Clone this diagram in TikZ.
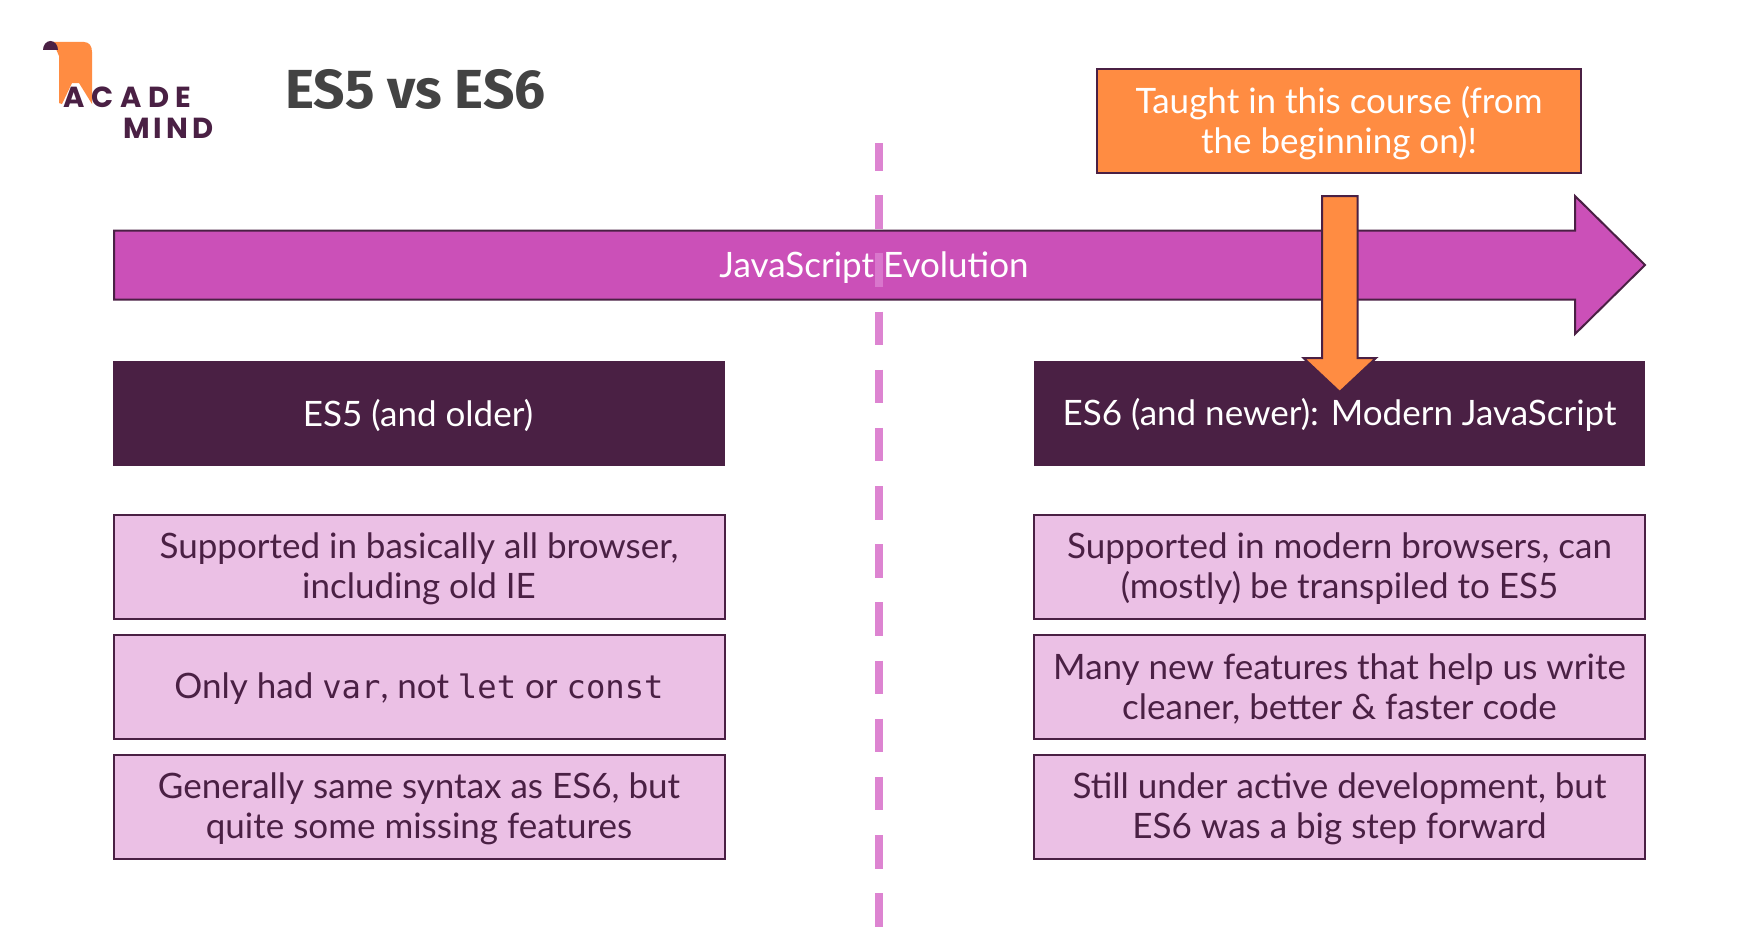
\documentclass[tikz,border=0pt]{standalone}
\usepackage{fontspec}
\setmainfont{Lato}
\newfontfamily\titlefont{Fira Sans}[UprightFont=*-Bold]
\newfontfamily\logofont{Poppins}[UprightFont=*-Bold]
\setmonofont{DejaVu Sans Mono}[Scale=0.92]
\definecolor{plum}{HTML}{4A2044}
\definecolor{violet}{HTML}{CB50B8}
\definecolor{pinkbox}{HTML}{EBC0E5}
\definecolor{dashpink}{HTML}{DB7ACE}
\definecolor{orangeb}{HTML}{FF8C42}
\definecolor{titlegray}{HTML}{434343}
\tikzset{
  x=1pt,y=-1pt,
  txt/.style={font=\fontsize{35}{40}\selectfont,align=center,inner sep=0pt,outer sep=0pt},
  info/.style={draw=plum,line width=2pt,fill=pinkbox,minimum width=611pt,minimum height=104pt,inner sep=0pt,outer sep=0pt},
  label/.style={txt,text=plum},
  head/.style={fill=plum,minimum width=611.5pt,minimum height=104.5pt,inner sep=0pt,outer sep=0pt},
  orangebox/.style={draw=plum,line width=2pt,fill=orangeb,minimum width=484pt,minimum height=104pt,inner sep=0pt,outer sep=0pt},
  outlinearrow/.style={draw=plum,line width=2pt,line join=miter},
  logotext/.style={inner sep=0pt,text=plum,font=\logofont\fontsize{29}{29}\selectfont,anchor=base west},
}
\begin{document}
\begin{tikzpicture}
\useasboundingbox (0,0) rectangle (1756,950);
\fill[white] (0,0) rectangle (1756,950);
% logo
\fill[orangeb] (53,42) -- (84,42) .. controls (89,42) and (92,46) .. (92,52) -- (92,104) -- (79,83) -- (72,83) -- (62,104) -- (59,103) -- (59,56) -- cycle;
\fill[plum] (43,50) arc[start angle=180,end angle=0,x radius=7.5pt,y radius=9pt] -- cycle;
\node[logotext] (logoa) at (63,107) {A\hspace{7pt}C\hspace{7pt}A\hspace{6pt}D\hspace{6pt}E};
\node[logotext] (logom) at (123,138) {M\hspace{4pt}I\hspace{4pt}N\hspace{4pt}D};
% title
\node[inner sep=0pt,text=titlegray,font=\titlefont\fontsize{55}{55}\selectfont,anchor=base west] (title) at (285,108) {ES5 vs ES6};
% big arrow
\draw[outlinearrow,fill=violet] (114,230.5) -- (1575,230.5) -- (1575,196) -- (1645,265) -- (1575,334) -- (1575,299.5) -- (114,299.5) -- cycle;
\node[txt,text=white] (evo) at (874,267.5) {JavaScript Evolution};
% headers
\node[head] (es5) at (419,413.7) {};
\node[txt,text=white] (es5t) at (418,415) {ES5 (and older)};
\node[head] (es6) at (1339.5,413.7) {};
\node[txt,text=white] (es6t) at (1339.5,415) {ES6 (and newer): Modern JavaScript};
% divider
\coordinate (dtop) at (879,143);
\coordinate (dbot) at (879,927);
\draw[dashpink,opacity=.92,line width=8.7pt,dash pattern=on 33.5pt off 24.67pt,dash phase=6pt] (dtop) -- (dbot);
% orange box and arrow
\node[orangebox] (taught) at (1339,121) {};
\node[txt,text=white] (taughtt) at (1339,123) {Taught in this course (from\\the beginning on)!};
\draw[outlinearrow,fill=orangeb] (1322,196) -- (1357.5,196) -- (1357.5,358) -- (1376,358) -- (1339.7,392) -- (1303.5,358) -- (1322,358) -- cycle;
% info boxes
\node[info] (a1) at (419,567) {};
\node[label] (a1t) at (419,569) {Supported in basically all browser,\\including old IE};
\node[info] (a2) at (419,687) {};
\node[label] (a2t) at (419,689) {Only had \texttt{var}, not \texttt{let} or \texttt{const}};
\node[info] (a3) at (419,807) {};
\node[label] (a3t) at (419,809) {Generally same syntax as ES6, but\\quite some missing features};
\node[info] (b1) at (1339.5,567) {};
\node[label] (b1t) at (1339.5,569) {Supported in modern browsers, can\\(mostly) be transpiled to ES5};
\node[info] (b2) at (1339.5,687) {};
\node[label] (b2t) at (1339.5,689) {Many new features that help us write\\cleaner, better \& faster code};
\node[info] (b3) at (1339.5,807) {};
\node[label] (b3t) at (1339.5,809) {Still under active development, but\\ES6 was a big step forward};
\end{tikzpicture}
\end{document}
